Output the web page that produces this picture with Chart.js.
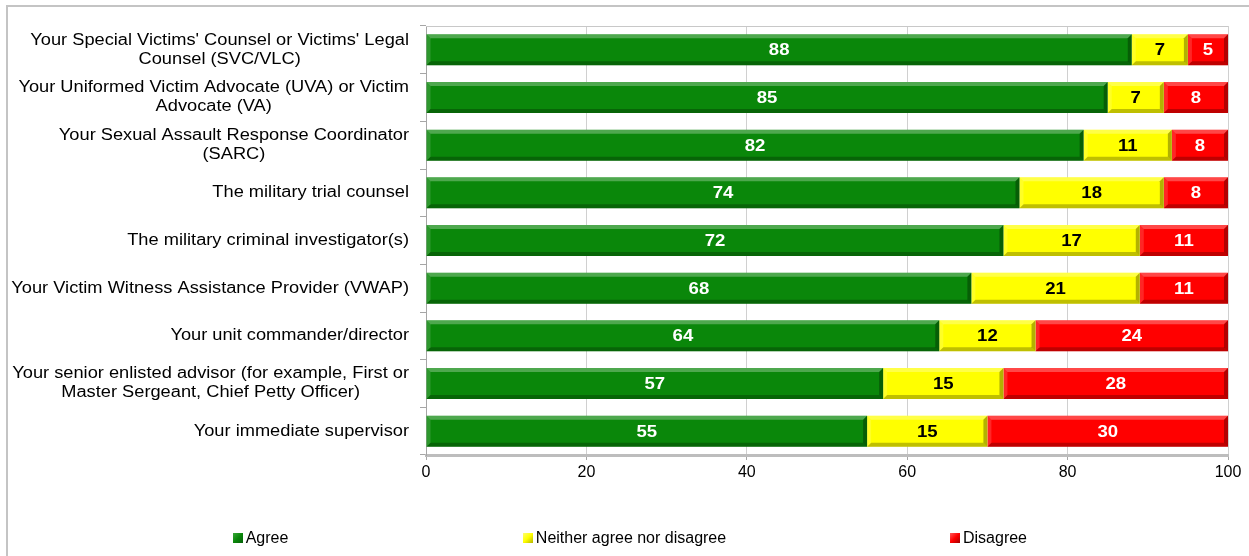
<!DOCTYPE html>
<html>
<head>
<meta charset="utf-8">
<title>Stacked bar</title>
<script src="https://cdn.jsdelivr.net/npm/chart.js@4.4.1/dist/chart.umd.min.js"></script>
<style>
  html, body { margin: 0; padding: 0; background: #fff; overflow: hidden; }
  #frame { position: absolute; left: 6px; top: 5px; width: 1400px; height: 700px; border: 2px solid #c4c4c4; box-sizing: border-box; }
  #chart { position: absolute; left: 0; top: 0; }
  #legend { position: absolute; left: 0; top: 528px; width: 1249px; display: flex; justify-content: center;
            font-family: "Liberation Sans", Arial, sans-serif; font-size: 16px; line-height: 19px; color: #000; }
  #legend .item { width: 364px; display: flex; justify-content: center; align-items: center; }
  #legend .box { width: 10px; height: 10px; margin-right: 3px; box-sizing: border-box; }
</style>
</head>
<body>
<div id="frame"></div>
<canvas id="chart" width="1249" height="556"></canvas>
<div id="legend"></div>
<script>
// chart data
const categories = [
    ["Your Special Victims' Counsel or Victims' Legal", "Counsel (SVC/VLC)"],
    ["Your Uniformed Victim Advocate (UVA) or Victim", "Advocate (VA)"],
    ["Your Sexual Assault Response Coordinator", "(SARC)"],
    ["The military trial counsel"],
    ["The military criminal investigator(s)"],
    ["Your Victim Witness Assistance Provider (VWAP)"],
    ["Your unit commander/director"],
    ["Your senior enlisted advisor (for example, First or", "Master Sergeant, Chief Petty Officer)"],
    ["Your immediate supervisor"]
];
const seriesNames = ['Agree', 'Neither agree nor disagree', 'Disagree'];
const agree = [88, 85, 82, 74, 72, 68, 64, 57, 55];
const neither = [7, 7, 11, 18, 17, 21, 12, 15, 15];
const disagree = [5, 8, 8, 8, 11, 11, 24, 28, 30];
const xTicks = [0, 20, 40, 60, 80, 100];

const seriesColors = ['#0a870a', '#ffff00', '#ff0000'];
const legendColors = [['#3aa83a', '#06600a'], ['#ffff70', '#b5b500'], ['#ff5a5a', '#a00000']];
const labelColors = ['#ffffff', '#000000', '#ffffff'];
const FONT = '"Liberation Sans", Arial, sans-serif';
const STRETCH = 1.14;   // source text looks wide

function wideText(ctx, text, x, y, sx) {
    ctx.save();
    ctx.translate(x, y);
    ctx.scale(sx, 1);
    ctx.fillText(text, 0, 0);
    ctx.restore();
}

// category labels: block right aligned, lines centred inside the block
const categoryLabels = {
    id: 'categoryLabels',
    afterDraw(chart) {
        const ctx = chart.ctx;
        const yScale = chart.scales.y;
        const right = yScale.right - 17;
        const lh = 19;
        ctx.save();
        ctx.font = '16px ' + FONT;
        ctx.fillStyle = '#000';
        ctx.textAlign = 'center';
        ctx.textBaseline = 'middle';
        categories.forEach((lines, i) => {
            const w = Math.max(...lines.map(l => ctx.measureText(l).width)) * STRETCH;
            const cx = right - w / 2;
            const cy = yScale.getPixelForValue(i);
            lines.forEach((l, j) => {
                wideText(ctx, l, cx, cy + (j - (lines.length - 1) / 2) * lh, STRETCH);
            });
        });
        ctx.restore();
    }
};

// bevel look + value labels on each segment
const barDecor = {
    id: 'barDecor',
    beforeDatasetsDraw(chart) {
        const {ctx, chartArea: a} = chart;
        ctx.save();
        ctx.strokeStyle = '#c8c8c8';
        ctx.lineWidth = 1;
        ctx.beginPath();
        ctx.moveTo(a.left, a.top + 0.5);
        ctx.lineTo(a.right, a.top + 0.5);
        ctx.stroke();
        ctx.restore();
    },
    afterDatasetsDraw(chart) {
        const {ctx, chartArea: a} = chart;
        const b = 4;
        ctx.save();
        chart.data.datasets.forEach((ds, di) => {
            chart.getDatasetMeta(di).data.forEach((bar, i) => {
                const l = Math.max(Math.min(bar.x, bar.base), a.left);
                const r = Math.min(Math.max(bar.x, bar.base), a.right);
                const t = bar.y - bar.height / 2;
                const bt = bar.y + bar.height / 2;
                const poly = (pts, fill) => {
                    ctx.fillStyle = fill;
                    ctx.beginPath();
                    ctx.moveTo(pts[0][0], pts[0][1]);
                    pts.slice(1).forEach(p => ctx.lineTo(p[0], p[1]));
                    ctx.closePath();
                    ctx.fill();
                };
                poly([[l, t], [r, t], [r - b, t + b], [l + b, t + b]], 'rgba(255,255,255,0.28)');
                poly([[l, bt], [r, bt], [r - b, bt - b], [l + b, bt - b]], 'rgba(0,0,0,0.25)');
                poly([[l, t], [l + b, t + b], [l + b, bt - b], [l, bt]], 'rgba(255,255,255,0.15)');
                poly([[r, t], [r - b, t + b], [r - b, bt - b], [r, bt]], 'rgba(0,0,0,0.3)');

                ctx.font = 'bold 16px ' + FONT;
                ctx.fillStyle = labelColors[di];
                ctx.textAlign = 'center';
                ctx.textBaseline = 'middle';
                wideText(ctx, String(ds.data[i]), (l + r) / 2, bar.y + 1, 1.16);
            });
        });
        ctx.restore();
    }
};

const seriesData = [agree, neither, disagree];

const chart = new Chart(document.getElementById('chart').getContext('2d'), {
    type: 'bar',
    data: {
        labels: categories.map(c => c.join(' ')),
        datasets: seriesNames.map((name, k) => ({
            label: name,
            data: seriesData[k],
            backgroundColor: seriesColors[k],
            borderWidth: 0,
            barPercentage: 0.65,
            categoryPercentage: 1
        }))
    },
    options: {
        indexAxis: 'y',
        responsive: false,
        animation: false,
        layout: { padding: { left: 0, right: 21, top: 26, bottom: 61 } },
        plugins: {
            legend: { display: false },
            tooltip: { enabled: false }
        },
        scales: {
            x: {
                stacked: true,
                min: 0,
                max: 100,
                afterBuildTicks: s => { s.ticks = xTicks.map(v => ({ value: v })); },
                afterFit: s => { s.height = 40; },
                grid: { color: '#d0d0d0', lineWidth: 1, tickLength: 5, tickColor: '#a6a6a6' },
                border: { color: '#bdbdbd', width: 3 },
                ticks: { color: '#000', font: { size: 16, family: FONT }, padding: 3 }
            },
            y: {
                stacked: true,
                afterFit: s => { s.width = 426; },
                grid: { drawOnChartArea: false, tickLength: 6, color: '#a6a6a6', offset: true },
                border: { color: '#a6a6a6', width: 1 },
                ticks: { display: false }
            }
        }
    },
    plugins: [barDecor, categoryLabels]
});

// legend built from the chart's datasets
const legendEl = document.getElementById('legend');
chart.data.datasets.forEach((ds, k) => {
    const item = document.createElement('div');
    item.className = 'item';
    const box = document.createElement('span');
    box.className = 'box';
    box.style.background = 'linear-gradient(135deg, ' + legendColors[k][0] + ', ' + ds.backgroundColor + ' 50%, ' + legendColors[k][1] + ')';
    const txt = document.createElement('span');
    txt.textContent = ds.label;
    item.appendChild(box);
    item.appendChild(txt);
    legendEl.appendChild(item);
});
</script>
</body>
</html>
